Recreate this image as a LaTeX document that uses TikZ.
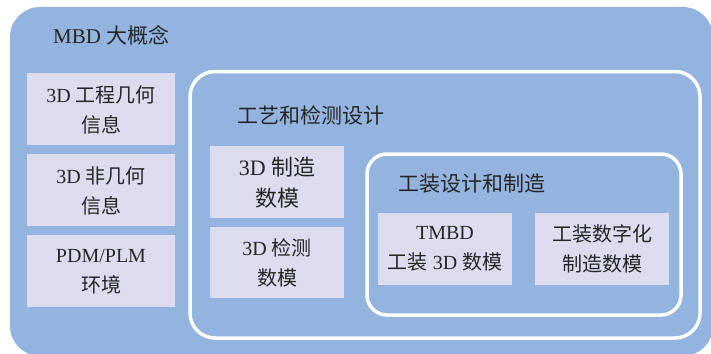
\documentclass[tikz,border=0pt]{standalone}
\usepackage{fontspec}
\setmainfont{Liberation Serif}
\newfontfamily\cjk{Noto Sans CJK SC}
\newcommand\zh[1]{{\cjk #1}}
\definecolor{bgblue}{RGB}{147,180,222}
\definecolor{boxfill}{RGB}{221,220,238}
\definecolor{txt}{RGB}{38,38,38}
\begin{document}
\begin{tikzpicture}[x=1pt,y=-1pt,
  frame/.style={draw=white,line width=3.5pt},
  cell/.style={fill=boxfill,draw=none},
  label/.style={text=txt,inner sep=0pt,align=center,font=\fontsize{20}{30}\selectfont},
  title/.style={text=txt,inner sep=0pt,anchor=west,font=\fontsize{21}{24}\selectfont}]
\useasboundingbox (0,0) rectangle (711,353);
% outer
\fill[bgblue,rounded corners=30pt] (10,7) rectangle (713,356);
\node[title] (t1) at (53,35) {MBD \zh{大概念}};
% left cells
\path[cell] (27,73) rectangle (175,145);
\node[label] (c1) at (101,110) {3D \zh{工程几何}\\\zh{信息}};
\path[cell] (27,154) rectangle (175,226);
\node[label] (c2) at (101,191) {3D \zh{非几何}\\\zh{信息}};
\path[cell] (27,235) rectangle (175,307);
\node[label] (c3) at (101,272) {PDM/PLM\\\zh{环境}};
% middle frame
\draw[frame,rounded corners=25pt] (190,71.5) rectangle (700,338);
\node[title] (t2) at (237,115) {\zh{工艺和检测设计}};
\path[cell] (210,146) rectangle (344,218);
\node[label,font=\fontsize{22}{31}\selectfont] (c4) at (277,183) {3D \zh{制造}\\\zh{数模}};
\path[cell] (210,227) rectangle (344,298);
\node[label] (c5) at (277,263) {3D \zh{检测}\\\zh{数模}};
% inner frame
\draw[frame,rounded corners=20pt] (367,154) rectangle (681,315);
\node[title] (t3) at (398,184) {\zh{工装设计和制造}};
\path[cell] (378,213) rectangle (512,285);
\node[label] (c6) at (445,249) {TMBD\\\zh{工装} 3D \zh{数模}};
\path[cell] (535,213) rectangle (669,285);
\node[label] (c7) at (602,249) {\zh{工装数字化}\\\zh{制造数模}};
\end{tikzpicture}
\end{document}
